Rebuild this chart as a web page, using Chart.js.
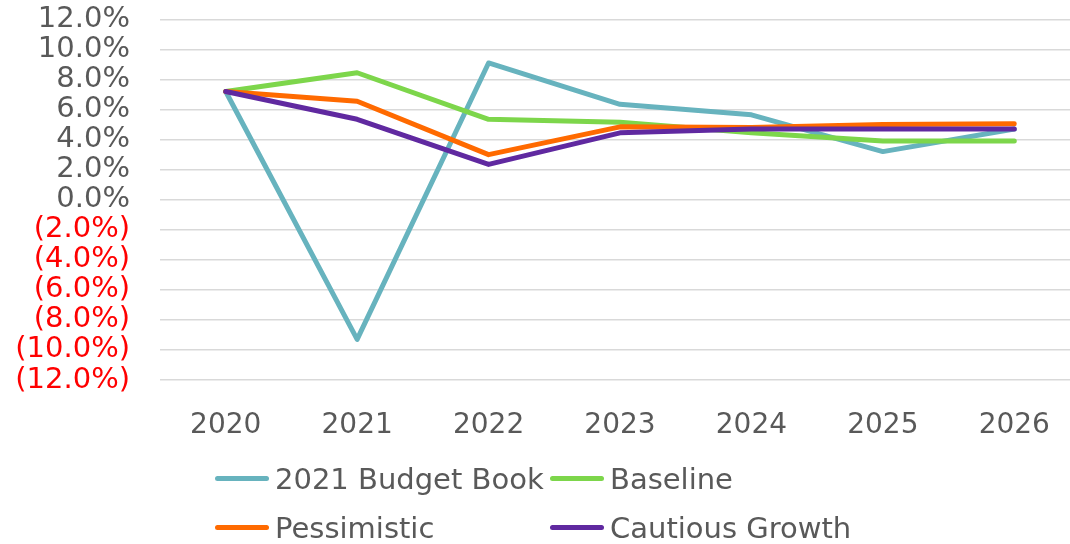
<!DOCTYPE html>
<html>

<head>
  <meta charset="UTF-8">
  <script src="https://cdn.jsdelivr.net/npm/chart.js"></script>
  <style>
    html, body { margin: 0; padding: 0; background: #fff; overflow: hidden; }
    .chartBox { position: relative; width: 1082px; height: 572px; margin-top: -28px; }
    .legend {
      position: absolute; left: 215px; top: 482px;
      display: grid; grid-template-columns: 335px auto; grid-auto-rows: 49px;
      align-items: center;
      font-family: "DejaVu Sans", Verdana, sans-serif; font-size: 29px; color: #595959;
    }
    .legend .item { display: flex; align-items: center; white-space: nowrap; }
    .legend .swatch { width: 54px; height: 5px; border-radius: 3px; margin-right: 6px; }
  </style>
</head>

<body>
  <div class="chartBox">
    <canvas id="myChart"></canvas>
    <div class="legend" id="legend"></div>
  </div>
  <script>
    const years = ['2020', '2021', '2022', '2023', '2024', '2025', '2026'];
    const budgetBook = [7.2, -9.3, 9.1, 6.35, 5.65, 3.2, 4.7];
    const baseline = [7.2, 8.45, 5.35, 5.15, 4.45, 3.9, 3.9];
    const pessimistic = [7.2, 6.55, 3.0, 4.85, 4.8, 5.0, 5.05];
    const cautious = [7.2, 5.35, 2.35, 4.45, 4.7, 4.7, 4.7];
    const yTicks = [-12, -10, -8, -6, -4, -2, 0, 2, 4, 6, 8, 10, 12];

    const series = [
      { label: '2021 Budget Book', data: budgetBook, color: '#67b3be', order: 3 },
      { label: 'Baseline', data: baseline, color: '#7dd64b', order: 2 },
      { label: 'Pessimistic', data: pessimistic, color: '#ff6a00', order: 1 },
      { label: 'Cautious Growth', data: cautious, color: '#6029a0', order: 0 }
    ];

    function pct(v) {
      return v < 0 ? '(' + (-v).toFixed(1) + '%)' : v.toFixed(1) + '%';
    }

    new Chart(document.getElementById('myChart'), {
      type: 'line',
      data: {
        labels: years,
        datasets: series.map(s => ({
          label: s.label,
          data: s.data,
          borderColor: s.color,
          backgroundColor: s.color,
          borderWidth: 5,
          borderCapStyle: 'round',
          borderJoinStyle: 'round',
          pointRadius: 0,
          tension: 0,
          order: s.order
        }))
      },
      options: {
        responsive: true,
        maintainAspectRatio: false,
        animation: false,
        layout: { padding: { top: 0, right: 2, left: 0, bottom: 0 } },
        plugins: {
          legend: { display: false },
          tooltip: { enabled: false }
        },
        scales: {
          x: {
            offset: true,
            grid: { display: false },
            border: { display: false },
            ticks: {
              color: '#595959',
              padding: 21,
              maxRotation: 0,
              font: { family: 'DejaVu Sans', size: 28 }
            },
            afterFit: scale => { scale.height = 164; }
          },
          y: {
            min: -12,
            max: 12,
            afterBuildTicks: scale => { scale.ticks = yTicks.map(v => ({ value: v })); },
            grid: { color: '#d9d9d9', lineWidth: 1.5, drawTicks: false },
            border: { display: false },
            ticks: {
              autoSkip: false,
              padding: 30,
              callback: v => pct(v),
              color: ctx => ctx.tick.value < 0 ? '#ff0000' : '#595959',
              font: { family: 'DejaVu Sans', size: 29 }
            },
            afterFit: scale => { scale.width = 160; }
          }
        }
      }
    });

    // legend laid out in two columns like the original
    const legend = document.getElementById('legend');
    series.forEach(s => {
      const item = document.createElement('div');
      item.className = 'item';
      item.innerHTML = '<span class="swatch" style="background:' + s.color + '"></span><span>' + s.label + '</span>';
      legend.appendChild(item);
    });
  </script>
</body>

</html>
